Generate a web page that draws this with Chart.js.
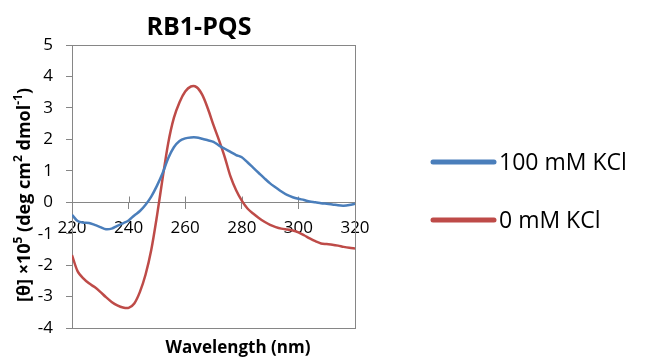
<!DOCTYPE html>
<html>
<head>
<meta charset="utf-8">
<script src="https://cdn.jsdelivr.net/npm/chart.js@4.4.0/dist/chart.umd.min.js"></script>
<style>
html,body{margin:0;padding:0;background:#fff;}
#wrap{width:656px;height:359px;position:relative;}
</style>
</head>
<body>
<div id="wrap"><canvas id="cd"></canvas></div>
<script>
// CD spectrum, RB1-PQS
const wavelengths=[220,222,224,226,228,230,232,234,236,238,240,242,244,246,248,250,252,254,256,258,260,
  262,264,266,268,270,272,274,276,278,280,282,284,286,288,290,292,294,296,298,300,
  302,304,306,308,310,312,314,316,318,320];
const kcl100=[-0.40,-0.60,-0.65,-0.66,-0.72,-0.79,-0.86,-0.84,-0.75,-0.67,-0.58,-0.42,-0.28,-0.08,0.18,0.52,0.92,1.40,1.75,1.95,2.03,
  2.06,2.06,2.02,1.97,1.92,1.80,1.70,1.60,1.50,1.43,1.27,1.10,0.93,0.76,0.60,0.47,0.34,0.23,0.16,0.11,
  0.07,0.02,0.00,-0.03,-0.05,-0.07,-0.10,-0.11,-0.09,-0.05];
const kcl0=[-1.68,-2.20,-2.42,-2.58,-2.70,-2.85,-3.02,-3.17,-3.28,-3.35,-3.36,-3.22,-2.85,-2.30,-1.52,-0.45,0.75,1.88,2.68,3.18,3.52,
  3.68,3.66,3.42,2.98,2.45,1.96,1.43,0.82,0.38,0.05,-0.20,-0.36,-0.50,-0.62,-0.72,-0.79,-0.84,-0.87,-0.90,-0.96,
  -1.05,-1.15,-1.24,-1.31,-1.33,-1.35,-1.38,-1.42,-1.45,-1.47];
const seriesNames=["100 mM KCl","0 mM KCl"];
const seriesColors=["#4a7ebb","#be4b48"];
const xRange=[220,320];
const yRange=[-4,5];

const FONT='"Open Sans", "Liberation Sans", sans-serif';
const AXIS='#868686';

const pts=vals=>wavelengths.map((w,i)=>({x:w,y:vals[i]}));

// frame, crossing ticks, title, axis titles, legend
const decor={
  id:"decor",
  beforeDatasetsDraw(c){
    const a=c.chartArea,ctx=c.ctx,xs=c.scales.x,ys=c.scales.y;
    ctx.save();
    ctx.strokeStyle=AXIS;ctx.lineWidth=1;
    ctx.strokeRect(Math.round(a.left)+0.5,Math.round(a.top)+0.5,Math.round(a.right-a.left),Math.round(a.bottom-a.top));
    const y0=Math.round(ys.getPixelForValue(0))+0.5;
    xs.ticks.forEach(t=>{
      const x=Math.round(xs.getPixelForValue(t.value))+0.5;
      ctx.beginPath();ctx.moveTo(x,y0-6);ctx.lineTo(x,y0);ctx.stroke();
    });
    ctx.restore();
  },
  afterDraw(c){
    const ctx=c.ctx;
    ctx.save();
    ctx.fillStyle="#000";
    ctx.textAlign="center";ctx.textBaseline="alphabetic";
    ctx.font="bold 25px "+FONT;
    ctx.fillText("RB1-PQS",199,35);
    ctx.font="bold 17px "+FONT;
    ctx.fillText("Wavelength (nm)",238,353);

    // y title with superscripts
    const parts=[["[θ] ×10",0],["5",1],[" (deg cm",0],["2",1],[" dmol",0],["-1",1],[")",0]];
    const big="bold 18px "+FONT,small="bold 12px "+FONT;
    let w=0;
    parts.forEach(p=>{ctx.font=p[1]?small:big;w+=ctx.measureText(p[0]).width;});
    ctx.translate(30,195);ctx.rotate(-Math.PI/2);
    ctx.textAlign="left";
    let x=-w/2;
    parts.forEach(p=>{
      ctx.font=p[1]?small:big;
      ctx.fillText(p[0],x,p[1]?-8:0);
      x+=ctx.measureText(p[0]).width;
    });
    ctx.restore();

    // legend
    ctx.save();
    const ly=[162,220];
    ctx.lineCap="round";ctx.lineWidth=5;
    ctx.font="23px "+FONT;ctx.textBaseline="middle";ctx.textAlign="left";
    seriesNames.forEach((n,i)=>{
      ctx.strokeStyle=seriesColors[i];
      ctx.beginPath();ctx.moveTo(433,ly[i]);ctx.lineTo(494,ly[i]);ctx.stroke();
      ctx.fillStyle="#000";
      ctx.fillText(n,499,ly[i]+1);
    });
    ctx.restore();
  }
};

new Chart(document.getElementById("cd"),{
  type:"line",
  data:{
    datasets:[
      {label:seriesNames[0],data:pts(kcl100),borderColor:seriesColors[0],borderWidth:2.5,pointRadius:0,tension:0.3,fill:false},
      {label:seriesNames[1],data:pts(kcl0),borderColor:seriesColors[1],borderWidth:2.5,pointRadius:0,tension:0.3,fill:false}
    ]
  },
  options:{
    responsive:true,maintainAspectRatio:false,animation:false,
    layout:{padding:{left:0,right:301,top:45,bottom:31}},
    plugins:{legend:{display:false},title:{display:false},tooltip:{enabled:false}},
    scales:{
      x:{
        type:"linear",position:{y:0},min:xRange[0],max:xRange[1],
        grid:{drawOnChartArea:false,tickLength:6,color:AXIS},
        border:{color:AXIS},
        ticks:{stepSize:20,padding:10,color:"#000",font:{family:FONT,size:17}}
      },
      y:{
        min:yRange[0],max:yRange[1],
        afterFit:s=>{s.width=72;},
        grid:{drawOnChartArea:false,tickLength:6,color:AXIS},
        border:{color:AXIS},
        ticks:{stepSize:1,padding:13,color:"#000",font:{family:FONT,size:17}}
      }
    }
  },
  plugins:[decor]
});
</script>
</body>
</html>
